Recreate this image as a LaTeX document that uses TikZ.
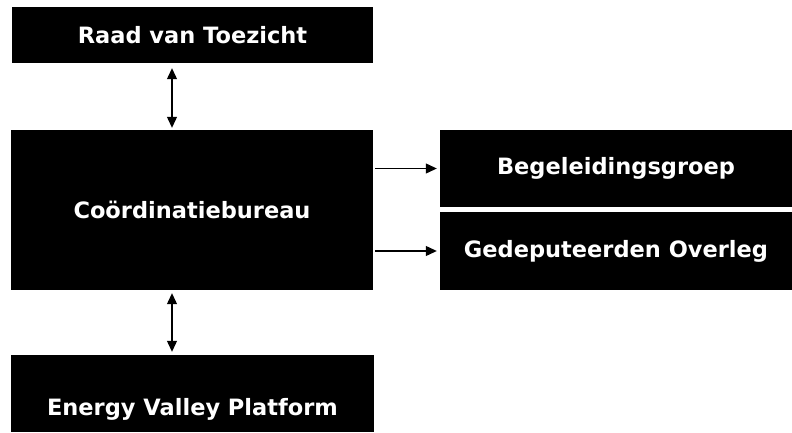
\documentclass[tikz,border=0pt]{standalone}
\usepackage{fontspec}
\setmainfont{DejaVu Sans}
\usetikzlibrary{arrows.meta}
\begin{document}
\begin{tikzpicture}[x=1pt, y=-1pt,
	every node/.style={fill=black, text=white, inner sep=0pt, font=\bfseries\fontsize{22.5}{26}\selectfont},
	both/.style={{Triangle[width=10pt,length=11pt]}-{Triangle[width=10pt,length=11pt]}},
	one/.style={-{Triangle[width=10pt,length=11pt]}}]
	\useasboundingbox (0,0) rectangle (792,433);
	\node[minimum width=361pt, minimum height=56pt] (raad) at (192.5, 35) {Raad van Toezicht};
	\node[minimum width=362pt, minimum height=160pt] (coord) at (192, 210) {Coördinatiebureau};
	\node[minimum width=352pt, minimum height=77pt] (begel) at (616, 168.5) {Begeleidingsgroep};
	\node[minimum width=352pt, minimum height=78pt] (gedep) at (616, 251) {Gedeputeerden Overleg};
	\node[anchor=base, minimum width=363pt, text height=60pt, text depth=17pt] (energy) at (192.5, 415) {Energy Valley Platform};
	
	\path[draw, line width=1.2pt]
	([xshift=-20.5pt, yshift=-5pt]raad.south) edge[both] ([xshift=-20pt, yshift=2pt]coord.north)
	([xshift=-20pt, yshift=-3pt]coord.south) edge[both] ([xshift=-20.5pt, yshift=3pt]energy.north)
	([xshift=2pt]coord.east |- begel.west) edge[one, shorten >=3pt] (begel.west)
	([xshift=2pt]coord.east |- gedep.west) edge[one, shorten >=3pt] (gedep.west)
	;
\end{tikzpicture}
\end{document}
